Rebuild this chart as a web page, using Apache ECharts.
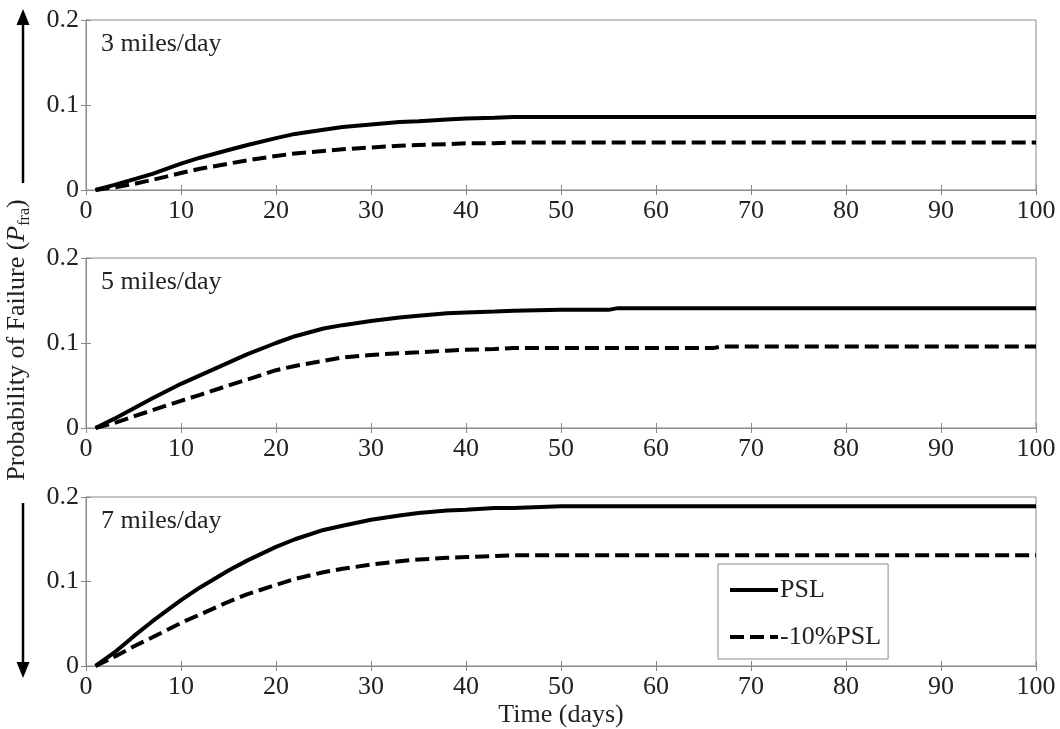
<!DOCTYPE html>
<html>
<head>
    <meta charset="utf-8">
    <title>Probability of Failure</title>
    <script src="https://cdn.jsdelivr.net/npm/echarts@6/dist/echarts.min.js"></script>
    <style>
        html,body{
            height: 100%;
            margin: 0;
            padding: 0;
            background: #fff;
        }
    </style>
</head>
<body>
    <div id="main" style="width: 1060px;height:729px;"></div>
    <script type="text/javascript">
    // sample days (x) shared by every curve
    var days = [1, 3, 5, 7, 10, 12, 15, 17, 20, 22, 25, 27, 30, 33, 35, 38, 40, 43, 45,
                50, 55, 56, 60, 66, 67, 70, 80, 90, 100];

    // 3 miles/day
    var psl3 = [0, 0.006, 0.0125, 0.019, 0.031, 0.038, 0.047, 0.053, 0.061, 0.066, 0.071, 0.074, 0.077, 0.080, 0.081, 0.083, 0.084, 0.085, 0.086,
                0.086, 0.086, 0.086, 0.086, 0.086, 0.086, 0.086, 0.086, 0.086, 0.086];
    var low3 = [0, 0.003, 0.007, 0.012, 0.020, 0.025, 0.031, 0.035, 0.040, 0.043, 0.046, 0.048, 0.050, 0.052, 0.053, 0.054, 0.055, 0.055, 0.056,
                0.056, 0.056, 0.056, 0.056, 0.056, 0.056, 0.056, 0.056, 0.056, 0.056];
    // 5 miles/day
    var psl5 = [0, 0.011, 0.023, 0.035, 0.052, 0.062, 0.077, 0.087, 0.100, 0.108, 0.117, 0.121, 0.126, 0.130, 0.132, 0.135, 0.136, 0.137, 0.138,
                0.139, 0.139, 0.141, 0.141, 0.141, 0.141, 0.141, 0.141, 0.141, 0.141];
    var low5 = [0, 0.006, 0.0135, 0.021, 0.032, 0.039, 0.050, 0.057, 0.068, 0.073, 0.079, 0.083, 0.086, 0.088, 0.089, 0.091, 0.092, 0.093, 0.094,
                0.094, 0.094, 0.094, 0.094, 0.094, 0.096, 0.096, 0.096, 0.096, 0.096];
    // 7 miles/day
    var psl7 = [0, 0.016, 0.035, 0.053, 0.078, 0.093, 0.113, 0.125, 0.141, 0.150, 0.161, 0.166, 0.173, 0.178, 0.181, 0.184, 0.185, 0.187, 0.187,
                0.189, 0.189, 0.189, 0.189, 0.189, 0.189, 0.189, 0.189, 0.189, 0.189];
    var low7 = [0, 0.011, 0.023, 0.034, 0.051, 0.061, 0.076, 0.085, 0.096, 0.103, 0.111, 0.115, 0.120, 0.124, 0.126, 0.128, 0.129, 0.130, 0.131,
                0.131, 0.131, 0.131, 0.131, 0.131, 0.131, 0.131, 0.131, 0.131, 0.131];

    var panelNames = ['3 miles/day', '5 miles/day', '7 miles/day'];
    var xTicks = [0, 100, 10];
    var yTicks = [0, 0.2, 0.1];

    var FONT = '"Liberation Serif", "DejaVu Serif", serif';
    var FS = 26;
    var GREY = '#8a8a8a';
    var gridTops = [20, 258, 497];

    function pairs(ys){
        return days.map(function(d, i){ return [d, ys[i]]; });
    }

    var myChart = echarts.init(document.getElementById('main'));

    var grids = [], xAxes = [], yAxes = [], titles = [], series = [];
    var curves = [[psl3, low3], [psl5, low5], [psl7, low7]];

    for(var g = 0; g < 3; g++){
        grids.push({left: 86, right: 24, top: gridTops[g], height: 170,
            show: true, borderColor: GREY, borderWidth: 1, backgroundColor: '#fff'});

        // bottom axis with labels, top axis just for the inward ticks
        xAxes.push({
            gridIndex: g, type: 'value', min: xTicks[0], max: xTicks[1], interval: xTicks[2],
            axisLine: {lineStyle: {color: GREY, width: 1}},
            axisTick: {inside: true, length: 5, lineStyle: {color: GREY}},
            splitLine: {show: false},
            axisLabel: {margin: 8, color: '#222', fontFamily: FONT, fontSize: FS},
            name: g == 2 ? 'Time (days)' : '',
            nameLocation: 'middle', nameGap: 36,
            nameTextStyle: {color: '#222', fontFamily: FONT, fontSize: FS}
        });
        xAxes.push({
            gridIndex: g, type: 'value', position: 'top', min: xTicks[0], max: xTicks[1], interval: xTicks[2],
            axisLine: {lineStyle: {color: GREY, width: 1}},
            axisTick: {inside: true, length: 5, lineStyle: {color: GREY}},
            splitLine: {show: false}, axisLabel: {show: false}
        });
        yAxes.push({
            gridIndex: g, type: 'value', min: yTicks[0], max: yTicks[1], interval: yTicks[2],
            axisLine: {show: true, lineStyle: {color: GREY, width: 1}},
            axisTick: {show: true, inside: true, length: 5, lineStyle: {color: GREY}},
            splitLine: {show: false},
            axisLabel: {margin: 7, color: '#222', fontFamily: FONT, fontSize: FS}
        });
        yAxes.push({
            gridIndex: g, type: 'value', position: 'right', min: yTicks[0], max: yTicks[1], interval: yTicks[2],
            axisLine: {show: true, lineStyle: {color: GREY, width: 1}},
            axisTick: {show: true, inside: true, length: 5, lineStyle: {color: GREY}},
            splitLine: {show: false}, axisLabel: {show: false}
        });

        titles.push({
            text: panelNames[g], left: 101, top: gridTops[g] + 11, padding: 0,
            textStyle: {color: '#222', fontFamily: FONT, fontSize: FS, fontWeight: 'normal'}
        });

        series.push({
            name: 'PSL', type: 'line', xAxisIndex: g * 2, yAxisIndex: g * 2,
            symbol: 'none',
            lineStyle: {color: '#000', width: 4, type: 'solid'},
            itemStyle: {color: '#000'},
            data: pairs(curves[g][0])
        });
        series.push({
            name: '-10%PSL', type: 'line', xAxisIndex: g * 2, yAxisIndex: g * 2,
            symbol: 'none',
            lineStyle: {color: '#000', width: 4, type: [14, 6]},
            itemStyle: {color: '#000'},
            data: pairs(curves[g][1])
        });
    }

    var option = {
        animation: false,
        title: titles,
        grid: grids,
        xAxis: xAxes,
        yAxis: yAxes,
        legend: {
            data: ['PSL', '-10%PSL'],
            orient: 'vertical',
            left: 718, top: 564,
            padding: [13, 7, 9, 10],
            itemWidth: 48, itemHeight: 14, itemGap: 21,
            backgroundColor: '#fff',
            borderColor: GREY, borderWidth: 1,
            itemStyle: {opacity: 0, color: 'rgba(0,0,0,0)', borderWidth: 0},
            lineStyle: {width: 4, color: '#000'},
            textStyle: {color: '#222', fontFamily: FONT, fontSize: FS, lineHeight: 26, padding: [0, 0, 0, -3]}
        },
        graphic: [
            // y axis title with subscript
            {
                type: 'text', x: 17, y: 340, rotation: Math.PI / 2,
                style: {
                    text: '{n|Probability of Failure (}{i|P}{s|fra}{n|)}',
                    align: 'center', verticalAlign: 'middle',
                    rich: {
                        n: {fontFamily: FONT, fontSize: FS, lineHeight: 32, fill: '#222'},
                        i: {fontFamily: FONT, fontSize: FS, lineHeight: 32, fontStyle: 'italic', fill: '#222'},
                        s: {fontFamily: FONT, fontSize: 16, lineHeight: 16, verticalAlign: 'bottom', fill: '#222'}
                    }
                }
            },
            // up arrow
            {type: 'line', shape: {x1: 23, y1: 183, x2: 23, y2: 22}, style: {stroke: '#000', lineWidth: 2.5}},
            {type: 'polygon', shape: {points: [[23, 9], [16.5, 25], [29.5, 25]]}, style: {fill: '#000'}},
            // down arrow
            {type: 'line', shape: {x1: 23, y1: 503, x2: 23, y2: 665}, style: {stroke: '#000', lineWidth: 2.5}},
            {type: 'polygon', shape: {points: [[23, 678], [16.5, 662], [29.5, 662]]}, style: {fill: '#000'}}
        ],
        series: series
    };

    myChart.setOption(option);
    </script>
</body>
</html>
